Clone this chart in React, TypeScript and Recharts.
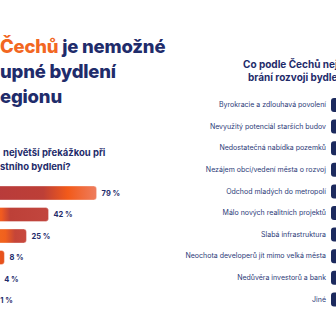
import { BarChart, Bar, XAxis, YAxis, Cell, LabelList } from 'recharts';

// left chart: share of answers per obstacle (category names are cropped out of the picture)
const obstacleKeys = ['o1', 'o2', 'o3', 'o4', 'o5', 'o6'];
const obstacleShares = [79, 42, 25, 8, 4, 1];

// right chart: barriers to housing development in the region
const barrierLabels = [
  'Byrokracie a zdlouhavá povolení',
  'Nevyužitý potenciál starších budov',
  'Nedostatečná nabídka pozemků',
  'Nezájem obcí/vedení města o rozvoj',
  'Odchod mladých do metropolí',
  'Málo nových realitních projektů',
  'Slabá infrastruktura',
  'Neochota developerů jít mimo velká města',
  'Nedůvěra investorů a bank',
  'Jiné',
];
const barrierShares = [46, 38, 35, 33, 31, 29, 26, 22, 15, 4];

const NAVY = '#1f2c6b';
const ORANGE = '#f26722';

const obstacleData = obstacleKeys.map((key, i) => ({ key, share: obstacleShares[i] }));
const barrierData = barrierLabels.map((label, i) => ({ label, share: barrierShares[i] }));

function Gradients() {
  return (
    <svg width={0} height={0} style={{ position: 'absolute' }}>
      <defs>
        <linearGradient id="ob0" x1="0" y1="0" x2="1" y2="0">
          <stop offset="0" stopColor="#b83b3b" />
          <stop offset="0.48" stopColor="#bd3f37" />
          <stop offset="0.72" stopColor="#f25a1a" />
          <stop offset="1" stopColor="#ee7d5e" />
        </linearGradient>
        <linearGradient id="ob1" x1="0" y1="0" x2="1" y2="0">
          <stop offset="0" stopColor="#f46a1c" />
          <stop offset="0.14" stopColor="#f05a20" />
          <stop offset="0.3" stopColor="#bd4038" />
          <stop offset="1" stopColor="#c2463e" />
        </linearGradient>
        <linearGradient id="ob2" x1="0" y1="0" x2="1" y2="0">
          <stop offset="0" stopColor="#f46a1c" />
          <stop offset="0.35" stopColor="#f0601e" />
          <stop offset="0.65" stopColor="#c54538" />
          <stop offset="1" stopColor="#c8493e" />
        </linearGradient>
        <linearGradient id="ob3" x1="0" y1="0" x2="1" y2="0">
          <stop offset="0" stopColor="#f0581a" />
          <stop offset="1" stopColor="#e4501c" />
        </linearGradient>
        <linearGradient id="ob4" x1="0" y1="0" x2="1" y2="0">
          <stop offset="0" stopColor="#f7c2ab" />
          <stop offset="1" stopColor="#f5b8a0" />
        </linearGradient>
        <linearGradient id="ob5" x1="0" y1="0" x2="1" y2="0">
          <stop offset="0" stopColor="#f9d6c8" />
          <stop offset="1" stopColor="#f9d6c8" />
        </linearGradient>
      </defs>
    </svg>
  );
}

export default function App() {
  return (
    <div
      style={{
        position: 'fixed',
        left: 0,
        top: 0,
        width: 336,
        height: 336,
        overflow: 'hidden',
        background: '#fff',
        fontFamily: 'Inter, "Noto Sans", sans-serif',
      }}
    >
      <Gradients />

      <div
        style={{
          position: 'absolute',
          left: 0,
          top: 34,
          fontSize: 18.5,
          lineHeight: '25px',
          fontWeight: 800,
          color: NAVY,
          whiteSpace: 'nowrap',
          letterSpacing: -0.2,
        }}
      >
        <div>
          <span style={{ color: ORANGE }}>Čechů</span> je nemožné
        </div>
        <div>upné bydlení</div>
        <div>egionu</div>
      </div>

      <div
        style={{
          position: 'absolute',
          left: 0,
          top: 146,
          fontSize: 9.5,
          lineHeight: '14px',
          fontWeight: 700,
          color: NAVY,
          whiteSpace: 'nowrap',
        }}
      >
        <div style={{ paddingLeft: 3 }}>největší překážkou při</div>
        <div>stního bydlení?</div>
      </div>

      <div style={{ position: 'absolute', left: -6, top: 182 }}>
        <BarChart
          width={200}
          height={129}
          data={obstacleData}
          layout="vertical"
          margin={{ top: 0, right: 0, bottom: 0, left: 0 }}
          barCategoryGap={7}
        >
          <XAxis type="number" hide domain={[0, 154]} />
          <YAxis type="category" dataKey="key" hide />
          <Bar
            dataKey="share"
            barSize={14}
            radius={[3, 3, 3, 3]}
            stroke="#ffffff"
            strokeOpacity={0.35}
            strokeWidth={1}
            isAnimationActive={false}
          >
            {obstacleData.map((d, i) => (
              <Cell key={d.key} fill={`url(#ob${i})`} />
            ))}
            <LabelList
              dataKey="share"
              position="right"
              offset={5}
              formatter={(v: number) => `${v}\u00a0%`}
              fill={NAVY}
              fontSize={7.5}
              fontWeight={700}
            />
          </Bar>
        </BarChart>
      </div>

      <div
        style={{
          position: 'absolute',
          left: 243,
          top: 58,
          fontSize: 10,
          lineHeight: '13px',
          fontWeight: 700,
          color: NAVY,
          whiteSpace: 'nowrap',
        }}
      >
        <div>Co podle Čechů nejvíce</div>
        <div style={{ paddingLeft: 5 }}>brání rozvoji bydlení v regionu?</div>
      </div>

      <div style={{ position: 'absolute', left: 31, top: 94 }}>
        <BarChart
          width={520}
          height={216}
          data={barrierData}
          layout="vertical"
          margin={{ top: 0, right: 0, bottom: 0, left: 0 }}
        >
          <XAxis type="number" hide domain={[0, 60]} />
          <YAxis
            type="category"
            dataKey="label"
            width={300}
            interval={0}
            tickLine={false}
            axisLine={false}
            tickSize={0}
            tickMargin={5}
            tick={{ fill: '#2b3a78', fontSize: 7 }}
          />
          <Bar
            dataKey="share"
            fill="#1c2a5e"
            barSize={14}
            radius={[3, 3, 3, 3]}
            isAnimationActive={false}
          />
        </BarChart>
      </div>
    </div>
  );
}
